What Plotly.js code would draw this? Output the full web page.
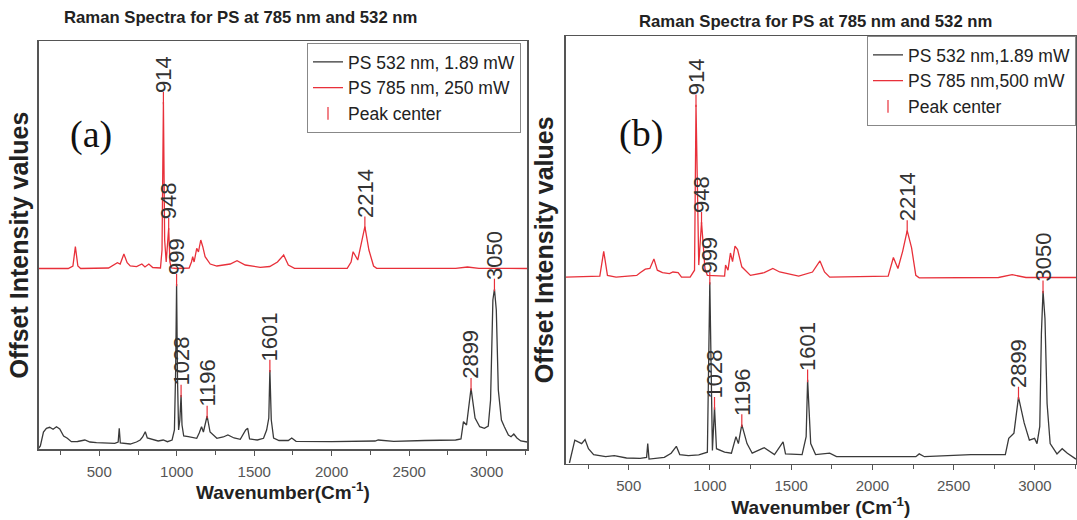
<!DOCTYPE html>
<html>
<head>
<meta charset="utf-8">
<script src="https://cdn.plot.ly/plotly-3.0.1.min.js"></script>
<style>html,body{margin:0;padding:0;background:#fff}#chart{width:1077px;height:520px}</style>
</head>
<body>
<div id="chart"></div>
<script>
// ---------- Data ----------
// Panel (a): wavenumber (cm-1) and offset intensity (a.u.)
const aRedWn = [108,300,330,346,362,380,560,590,617,635,659,680,700,741,775,795,820,845,895,905,914,922,932,940,948,956,965,1000,1080,1095,1103,1112,1129,1140,1155,1168,1183,1216,1259,1345,1389,1442,1539,1600,1650,1690,1720,1760,2100,2125,2138,2168,2190,2214,2240,2270,2290,2800,2876,2950,3262];
const aRedY  = [1805,1805,1830,2023,1830,1805,1810,1840,1863,1850,1950,1863,1830,1823,1850,1820,1850,1815,1810,1990,3470,2090,1870,2040,2210,1870,1810,1805,1810,1870,1923,1870,2007,1970,2090,2023,1923,1850,1830,1850,1883,1840,1817,1825,1870,1940,1840,1807,1807,1870,1973,1890,2040,2223,1990,1830,1807,1807,1820,1807,1805];
const aBlkWn = [110,120,140,159,180,202,224,245,270,294,320,360,407,440,482,540,600,622,629,636,700,740,764,780,797,810,849,880,913,940,970,985,993,999,1005,1012,1020,1028,1034,1045,1075,1129,1145,1160,1172,1196,1215,1259,1300,1330,1370,1410,1445,1458,1470,1520,1560,1580,1594,1601,1610,1625,1660,1720,1742,1770,2000,2280,2300,2400,2600,2800,2834,2850,2870,2899,2925,2955,2985,3010,3025,3040,3050,3062,3075,3095,3114,3140,3157,3175,3195,3220,3262];
const aBlkY  = [10,30,170,207,217,197,223,200,130,107,73,75,90,70,63,60,57,70,207,60,50,70,90,120,173,110,90,80,90,73,90,190,790,1650,690,190,290,540,240,130,123,107,160,223,170,330,170,107,120,140,110,97,190,207,100,90,107,190,310,790,290,110,85,85,110,77,73,80,90,77,85,90,100,273,240,607,310,223,207,230,490,1490,1600,1390,590,290,223,140,123,150,110,80,70];

// Panel (b)
const bRedWn = [112,322,346,369,422,549,570,602,630,655,676,708,751,772,804,825,878,905,914,931,948,969,984,1090,1096,1111,1126,1139,1154,1170,1196,1249,1334,1387,1429,1546,1631,1677,1705,1737,2097,2129,2157,2186,2214,2241,2267,2288,2776,2860,2945,3253];
const bRedY  = [1864,1874,2122,1881,1864,1881,1908,1943,1950,2046,1933,1908,1898,1915,1908,1864,1864,1933,3588,1984,2415,1950,1881,1874,1984,1933,2105,2019,2174,2139,1967,1881,1908,1950,1915,1874,1915,2026,1915,1864,1874,2060,1950,2122,2329,2156,1881,1857,1860,1888,1860,1860];
const bBlkWn = [135,168,189,210,231,252,284,358,411,486,570,610,617,625,719,761,793,814,867,931,984,999,1015,1028,1040,1090,1132,1160,1175,1196,1228,1260,1334,1397,1450,1465,1567,1592,1601,1620,1650,1737,1779,2267,2288,2320,2606,2818,2839,2871,2899,2934,2966,2998,3013,3030,3040,3050,3062,3075,3094,3136,3168,3200,3253];
const bBlkY  = [5,234,216,199,240,148,89,68,79,55,51,61,199,44,61,103,172,89,79,86,113,1812,130,561,148,113,103,268,199,389,199,103,158,89,216,96,89,268,836,199,89,103,68,68,96,68,89,89,251,303,664,406,234,251,199,371,1300,1726,1450,600,199,96,148,103,44];

// Peak centres
const redPeaks   = [914, 948, 2214];
const blackPeaks = [999, 1028, 1196, 1601, 2899, 3050];

// Texts
const titleText = 'Raman Spectra for PS at 785 nm and 532 nm';
const legendA = ['PS 532 nm, 1.89 mW', 'PS 785 nm, 250 mW', 'Peak center'];
const legendB = ['PS 532 nm,1.89 mW', 'PS 785 nm,500 mW', 'Peak center'];
const xTitleA = 'Wavenumber(Cm<sup>-1</sup>)';
const xTitleB = 'Wavenumber (Cm<sup>-1</sup>)';
const yTitle  = 'Offset Intensity values';
const panelTags = ['(a)', '(b)'];

// ---------- Styling / layout ----------
const W = 1077, H = 520;
const RED = '#e8303a', BLK = '#3a3a3a', FRAME = '#555555';
const FONT = 'Arial, "Liberation Sans", Helvetica, sans-serif';

const panels = [
  {xa:'x', ya:'y', xkey:'xaxis', ykey:'yaxis', legend:'legend',
   red:[aRedWn,aRedY], blk:[aBlkWn,aBlkY], names:legendA, xTitle:xTitleA,
   xdom:[38.5/W, 527.3/W], ydom:[1-449/H, 1-41/H], xr:[108,3262], yr:[0,4080], ystand:1,
   leg:{x:521/W, y:1-43/H}, title:{x:240/W, y:1-18/H}, tag:{x:91/W, y:1-135/H}, tag_t:panelTags[0]},
  {xa:'x2', ya:'y2', xkey:'xaxis2', ykey:'yaxis2', legend:'legend2',
   red:[bRedWn,bRedY], blk:[bBlkWn,bBlkY], names:legendB, xTitle:xTitleB,
   xdom:[565.7/W, 1076/W], ydom:[1-463.5/H, 1-36/H], xr:[112,3253], yr:[0,4275], ystand:3,
   leg:{x:1076/W, y:1-36/H}, title:{x:815/W, y:1-22/H}, tag:{x:641/W, y:1-133/H}, tag_t:panelTags[1]}
];

function peakTop(xs, ys, wn){
  let best = -Infinity;
  for (let i = 0; i < xs.length; i++) if (Math.abs(xs[i]-wn) <= 8 && ys[i] > best) best = ys[i];
  return best;
}

const traces = [];
const annotations = [];
const layout = {
  width: W, height: H, margin:{l:0,r:0,t:0,b:0},
  paper_bgcolor:'#fff', plot_bgcolor:'#fff',
  font:{family:FONT, color:'#333'},
  showlegend:true,
  hovermode:false
};

panels.forEach((p, i) => {
  const unitsPerPx = (p.yr[1]-p.yr[0]) / ((p.ydom[1]-p.ydom[0]) * H);
  traces.push({type:'scatter', mode:'lines', x:p.blk[0], y:p.blk[1], xaxis:p.xa, yaxis:p.ya,
    name:p.names[0], legend:p.legend, line:{color:BLK, width:1.3}});
  traces.push({type:'scatter', mode:'lines', x:p.red[0], y:p.red[1], xaxis:p.xa, yaxis:p.ya,
    name:p.names[1], legend:p.legend, line:{color:RED, width:1.3}});
  const px = [], py = [];
  const addPeak = (wn, src) => {
    const top = peakTop(src[0], src[1], wn);
    px.push(wn); py.push(top + 4*unitsPerPx);
    annotations.push({xref:p.xa, yref:p.ya, x:wn, y:top, text:String(wn), textangle:-90,
      showarrow:false, xanchor:'center', yanchor:'bottom', yshift:7,
      font:{family:FONT, size:22, color:'#333'}});
  };
  redPeaks.forEach(wn => addPeak(wn, p.red));
  blackPeaks.forEach(wn => addPeak(wn, p.blk));
  traces.push({type:'scatter', mode:'markers', x:px, y:py, xaxis:p.xa, yaxis:p.ya,
    name:p.names[2], legend:p.legend,
    marker:{symbol:'line-ns-open', size:9, color:RED, line:{width:1.2, color:RED}}});

  layout[p.xkey] = {
    domain:p.xdom, range:p.xr, anchor:p.ya,
    showline:true, mirror:true, linecolor:FRAME, linewidth:1.5,
    ticks:'outside', ticklen:5, tickwidth:1, tickcolor:FRAME,
    tick0:0, dtick:500, ticklabelstandoff:3,
    minor:{dtick:250, ticks:'outside', ticklen:4, tickcolor:FRAME},
    tickfont:{family:FONT, size:15, color:'#555'},
    showgrid:false, zeroline:false,
    title:{text:p.xTitle, standoff:1, font:{family:FONT, size:19, weight:'bold', color:'#222'}}
  };
  layout[p.ykey] = {
    domain:p.ydom, range:p.yr, anchor:p.xa,
    showline:true, mirror:true, linecolor:FRAME, linewidth:1.5,
    ticks:'', showticklabels:false, showgrid:false, zeroline:false,
    title:{text:yTitle, standoff:p.ystand, font:{family:FONT, size:25, weight:'bold', color:'#222'}}
  };
  layout[p.legend] = {
    x:p.leg.x, xanchor:'right', y:p.leg.y, yanchor:'top',
    bgcolor:'#fff', bordercolor:'#888', borderwidth:1,
    font:{family:FONT, size:17.5, color:'#222'}, itemwidth:30, tracegroupgap:0
  };
  annotations.push({xref:'paper', yref:'paper', x:p.title.x, y:p.title.y, xanchor:'center', yanchor:'middle',
    text:titleText, showarrow:false, font:{family:FONT, size:16.7, weight:'bold', color:'#222'}});
  annotations.push({xref:'paper', yref:'paper', x:p.tag.x, y:p.tag.y, xanchor:'center', yanchor:'middle',
    text:p.tag_t, showarrow:false, font:{family:'"Liberation Serif", "Times New Roman", serif', size:38, color:'#111'}});
});
layout.annotations = annotations;

Plotly.newPlot('chart', traces, layout, {staticPlot:true, displayModeBar:false});
</script>
</body>
</html>
